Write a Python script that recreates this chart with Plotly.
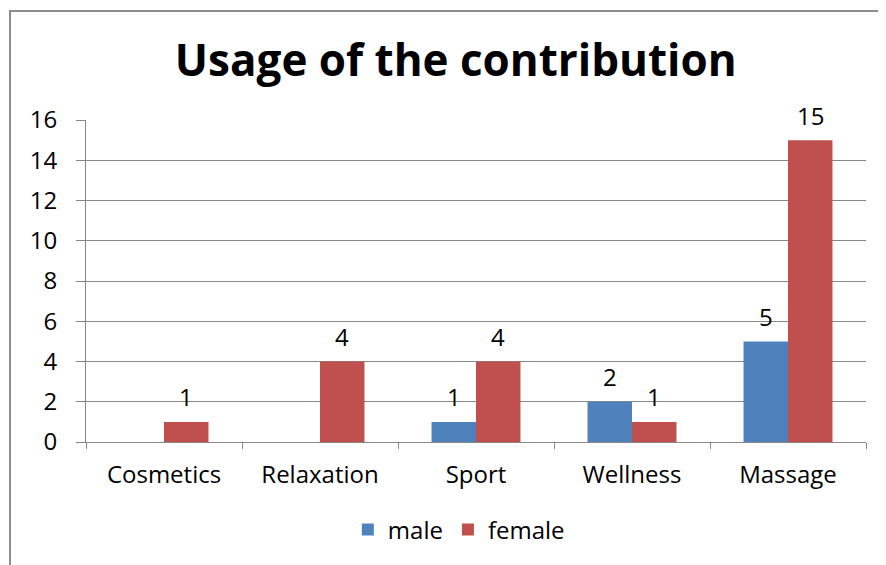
import plotly.graph_objects as go

# data
categories = ["Cosmetics", "Relaxation", "Sport", "Wellness", "Massage"]
male = [None, None, 1, 2, 5]
female = [1, 4, 4, 1, 15]
y_ticks = [0, 2, 4, 6, 8, 10, 12, 14, 16]

BLUE = "#4F81BD"
RED = "#C0504D"
GRID = "#878787"
FONT = "Open Sans"

fig = go.Figure()
series = [("male", male, BLUE, -22), ("female", female, RED, 22)]
for name, vals, color, dx in series:
    fig.add_trace(go.Bar(
        x=categories, y=vals, name=name,
        marker=dict(color=color, line=dict(width=0)),
    ))
    # value labels, sitting a bit higher than plotly's own "outside" text
    for cat, v in zip(categories, vals):
        if v is None:
            continue
        fig.add_annotation(x=cat, y=v, text=str(v), showarrow=False,
                           xshift=dx, yshift=25, yanchor="middle",
                           font=dict(size=24, color="#000000", family=FONT))

fig.update_layout(
    width=878, height=557,
    margin=dict(l=78, r=20, t=112, b=123),
    paper_bgcolor="white", plot_bgcolor="white",
    barmode="group", bargap=0.43, bargroupgap=0,
    title=dict(text="<b>Usage of the contribution</b>", x=0.51, xanchor="center",
               y=0.905, yanchor="middle",
               font=dict(size=44, color="#000000", family=FONT)),
    font=dict(family=FONT, size=24, color="#000000"),
    showlegend=True,
    legend=dict(orientation="h", x=0.478, xanchor="center", y=-0.273, yanchor="middle",
                font=dict(size=24), itemwidth=30, traceorder="normal"),
    shapes=[dict(type="rect", xref="paper", yref="paper",
                 x0=-0.0974, x1=1.2, y0=-0.6, y1=1.3385,
                 line=dict(color="#8c8c8c", width=2), fillcolor="rgba(0,0,0,0)",
                 layer="below")],
)
fig.update_yaxes(range=[0, 16], tickvals=y_ticks, showgrid=True, gridcolor=GRID,
                 gridwidth=1, showline=True, linecolor=GRID, linewidth=1,
                 ticks="outside", ticklen=9, tickcolor=GRID, zeroline=False,
                 ticklabelstandoff=14, tickfont=dict(size=24))
fig.update_xaxes(showline=True, linecolor=GRID, linewidth=1, ticks="outside",
                 tickson="boundaries", ticklen=6, tickcolor=GRID,
                 ticklabelstandoff=11, tickfont=dict(size=24))

fig.write_html("out.html")
